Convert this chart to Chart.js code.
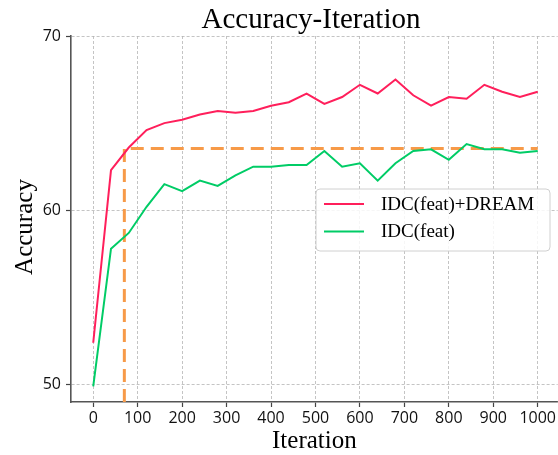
<!DOCTYPE html>
<html>
<head>
<meta charset="utf-8">
<script src="https://cdn.jsdelivr.net/npm/chart.js@4/dist/chart.umd.min.js"></script>
<style>
  html, body { margin: 0; padding: 0; background: #ffffff; }
  #wrap { width: 558px; height: 455px; position: relative; }
  canvas { display: block; }
</style>
</head>
<body>
<div id="wrap"><canvas id="c" width="558" height="455" style="width:558px;height:455px"></canvas></div>
<script>
// ---- data ----
const iterations = [0, 40, 80, 120, 160, 200, 240, 280, 320, 360, 400, 440, 480, 520, 560, 600, 640, 680, 720, 760, 800, 840, 880, 920, 960, 1000];
const dreamAcc = [52.4, 62.3, 63.6, 64.6, 65.0, 65.2, 65.5, 65.7, 65.6, 65.7, 66.0, 66.2, 66.7, 66.1, 66.5, 67.2, 66.7, 67.5, 66.6, 66.0, 66.5, 66.4, 67.2, 66.8, 66.5, 66.8];
const baseAcc  = [49.9, 57.8, 58.7, 60.2, 61.5, 61.1, 61.7, 61.4, 62.0, 62.5, 62.5, 62.6, 62.6, 63.4, 62.5, 62.7, 61.7, 62.7, 63.4, 63.5, 62.9, 63.8, 63.5, 63.5, 63.3, 63.4];
const seriesNames = ['IDC(feat)+DREAM', 'IDC(feat)'];
const refIter = 70;       // iteration where DREAM reaches baseline's final accuracy
const refAcc = 63.55;     // baseline final accuracy level
const refIterEnd = 1000;
const xTicks = [0, 100, 200, 300, 400, 500, 600, 700, 800, 900, 1000];
const yTicks = [50, 60, 70];
const xMin = -50, xMax = 1045, yMin = 49, yMax = 70;
const titleText = 'Accuracy-Iteration';
const xTitle = 'Iteration';
const yTitle = 'Accuracy';

// ---- build ----
const toPts = (vals) => iterations.map((x, i) => ({ x: x, y: vals[i] }));
const refLine = [{ x: refIter, y: yMin }, { x: refIter, y: refAcc }, { x: refIterEnd, y: refAcc }];

const RED = '#ff1f5b', GREEN = '#00cc66', ORANGE = '#f79a48';
const SERIF = '"Liberation Serif", "Times New Roman", serif';
const SANS = '"Open Sans", "DejaVu Sans", sans-serif';

const decor = {
  id: 'decor',
  afterDraw(chart) {
    const ctx = chart.ctx;
    ctx.save();
    // chart title
    ctx.fillStyle = '#000';
    ctx.font = '29px ' + SERIF;
    ctx.textAlign = 'center';
    ctx.textBaseline = 'alphabetic';
    ctx.fillText(titleText, 311, 28);
    // y axis title
    ctx.save();
    ctx.translate(32, 227);
    ctx.rotate(-Math.PI / 2);
    ctx.font = '25px ' + SERIF;
    ctx.fillText(yTitle, 0, 0);
    ctx.restore();
    // legend box
    const lx = 316, ly = 189, lw = 234, lh = 62, r = 4;
    ctx.beginPath();
    ctx.moveTo(lx + r, ly);
    ctx.arcTo(lx + lw, ly, lx + lw, ly + lh, r);
    ctx.arcTo(lx + lw, ly + lh, lx, ly + lh, r);
    ctx.arcTo(lx, ly + lh, lx, ly, r);
    ctx.arcTo(lx, ly, lx + lw, ly, r);
    ctx.closePath();
    ctx.fillStyle = 'rgba(255,255,255,0.85)';
    ctx.fill();
    ctx.strokeStyle = '#d0d0d0';
    ctx.lineWidth = 1;
    ctx.stroke();
    const rows = [204, 231.5];
    chart.data.datasets.slice(0, 2).forEach((ds, i) => {
      ctx.strokeStyle = ds.borderColor;
      ctx.lineWidth = 2;
      ctx.beginPath();
      ctx.moveTo(324, rows[i]);
      ctx.lineTo(364, rows[i]);
      ctx.stroke();
      ctx.fillStyle = '#000';
      ctx.font = '19px ' + SERIF;
      ctx.textAlign = 'left';
      ctx.textBaseline = 'middle';
      ctx.fillText(ds.label, 381, rows[i] + 1);
    });
    ctx.restore();
  }
};

new Chart(document.getElementById('c'), {
  type: 'line',
  data: {
    datasets: [
      { label: seriesNames[0], data: toPts(dreamAcc), borderColor: RED, backgroundColor: RED, borderWidth: 2, pointRadius: 0, tension: 0 },
      { label: seriesNames[1], data: toPts(baseAcc), borderColor: GREEN, backgroundColor: GREEN, borderWidth: 2, pointRadius: 0, tension: 0 },
      { label: 'ref', data: refLine, borderColor: ORANGE, backgroundColor: ORANGE, borderWidth: 3, borderDash: [13, 7], pointRadius: 0, tension: 0 }
    ]
  },
  options: {
    responsive: false,
    animation: false,
    devicePixelRatio: 1,
    layout: { padding: { top: 36, left: 0, right: 0, bottom: 0 } },
    plugins: { legend: { display: false }, title: { display: false }, tooltip: { enabled: false } },
    scales: {
      x: {
        type: 'linear', min: xMin, max: xMax,
        afterBuildTicks: (s) => { s.ticks = xTicks.map(v => ({ value: v })); },
        afterFit: (s) => { s.height = 53; },
        grid: { color: '#b5b5b5', lineWidth: 0.8, tickColor: '#444', tickLength: 5, tickWidth: 1.2 },
        border: { display: true, color: '#555', width: 1.6, dash: [3, 2] },
        ticks: { color: '#111', font: { family: SANS, size: 16 }, padding: 2, maxRotation: 0, autoSkip: false, callback: (v) => String(v) },
        title: { display: true, text: xTitle, color: '#000', font: { family: SERIF, size: 25, lineHeight: 1 }, padding: { top: 0, bottom: 1 } }
      },
      y: {
        type: 'linear', min: yMin, max: yMax,
        afterBuildTicks: (s) => { s.ticks = yTicks.map(v => ({ value: v })); },
        afterFit: (s) => { s.width = 71; },
        grid: { color: '#b5b5b5', lineWidth: 0.8, tickColor: '#444', tickLength: 5, tickWidth: 1.2 },
        border: { display: true, color: '#555', width: 1.6, dash: [3, 2] },
        ticks: { color: '#111', font: { family: SANS, size: 16 }, padding: 5, callback: (v) => String(v) }
      }
    }
  },
  plugins: [decor]
});
</script>
</body>
</html>
